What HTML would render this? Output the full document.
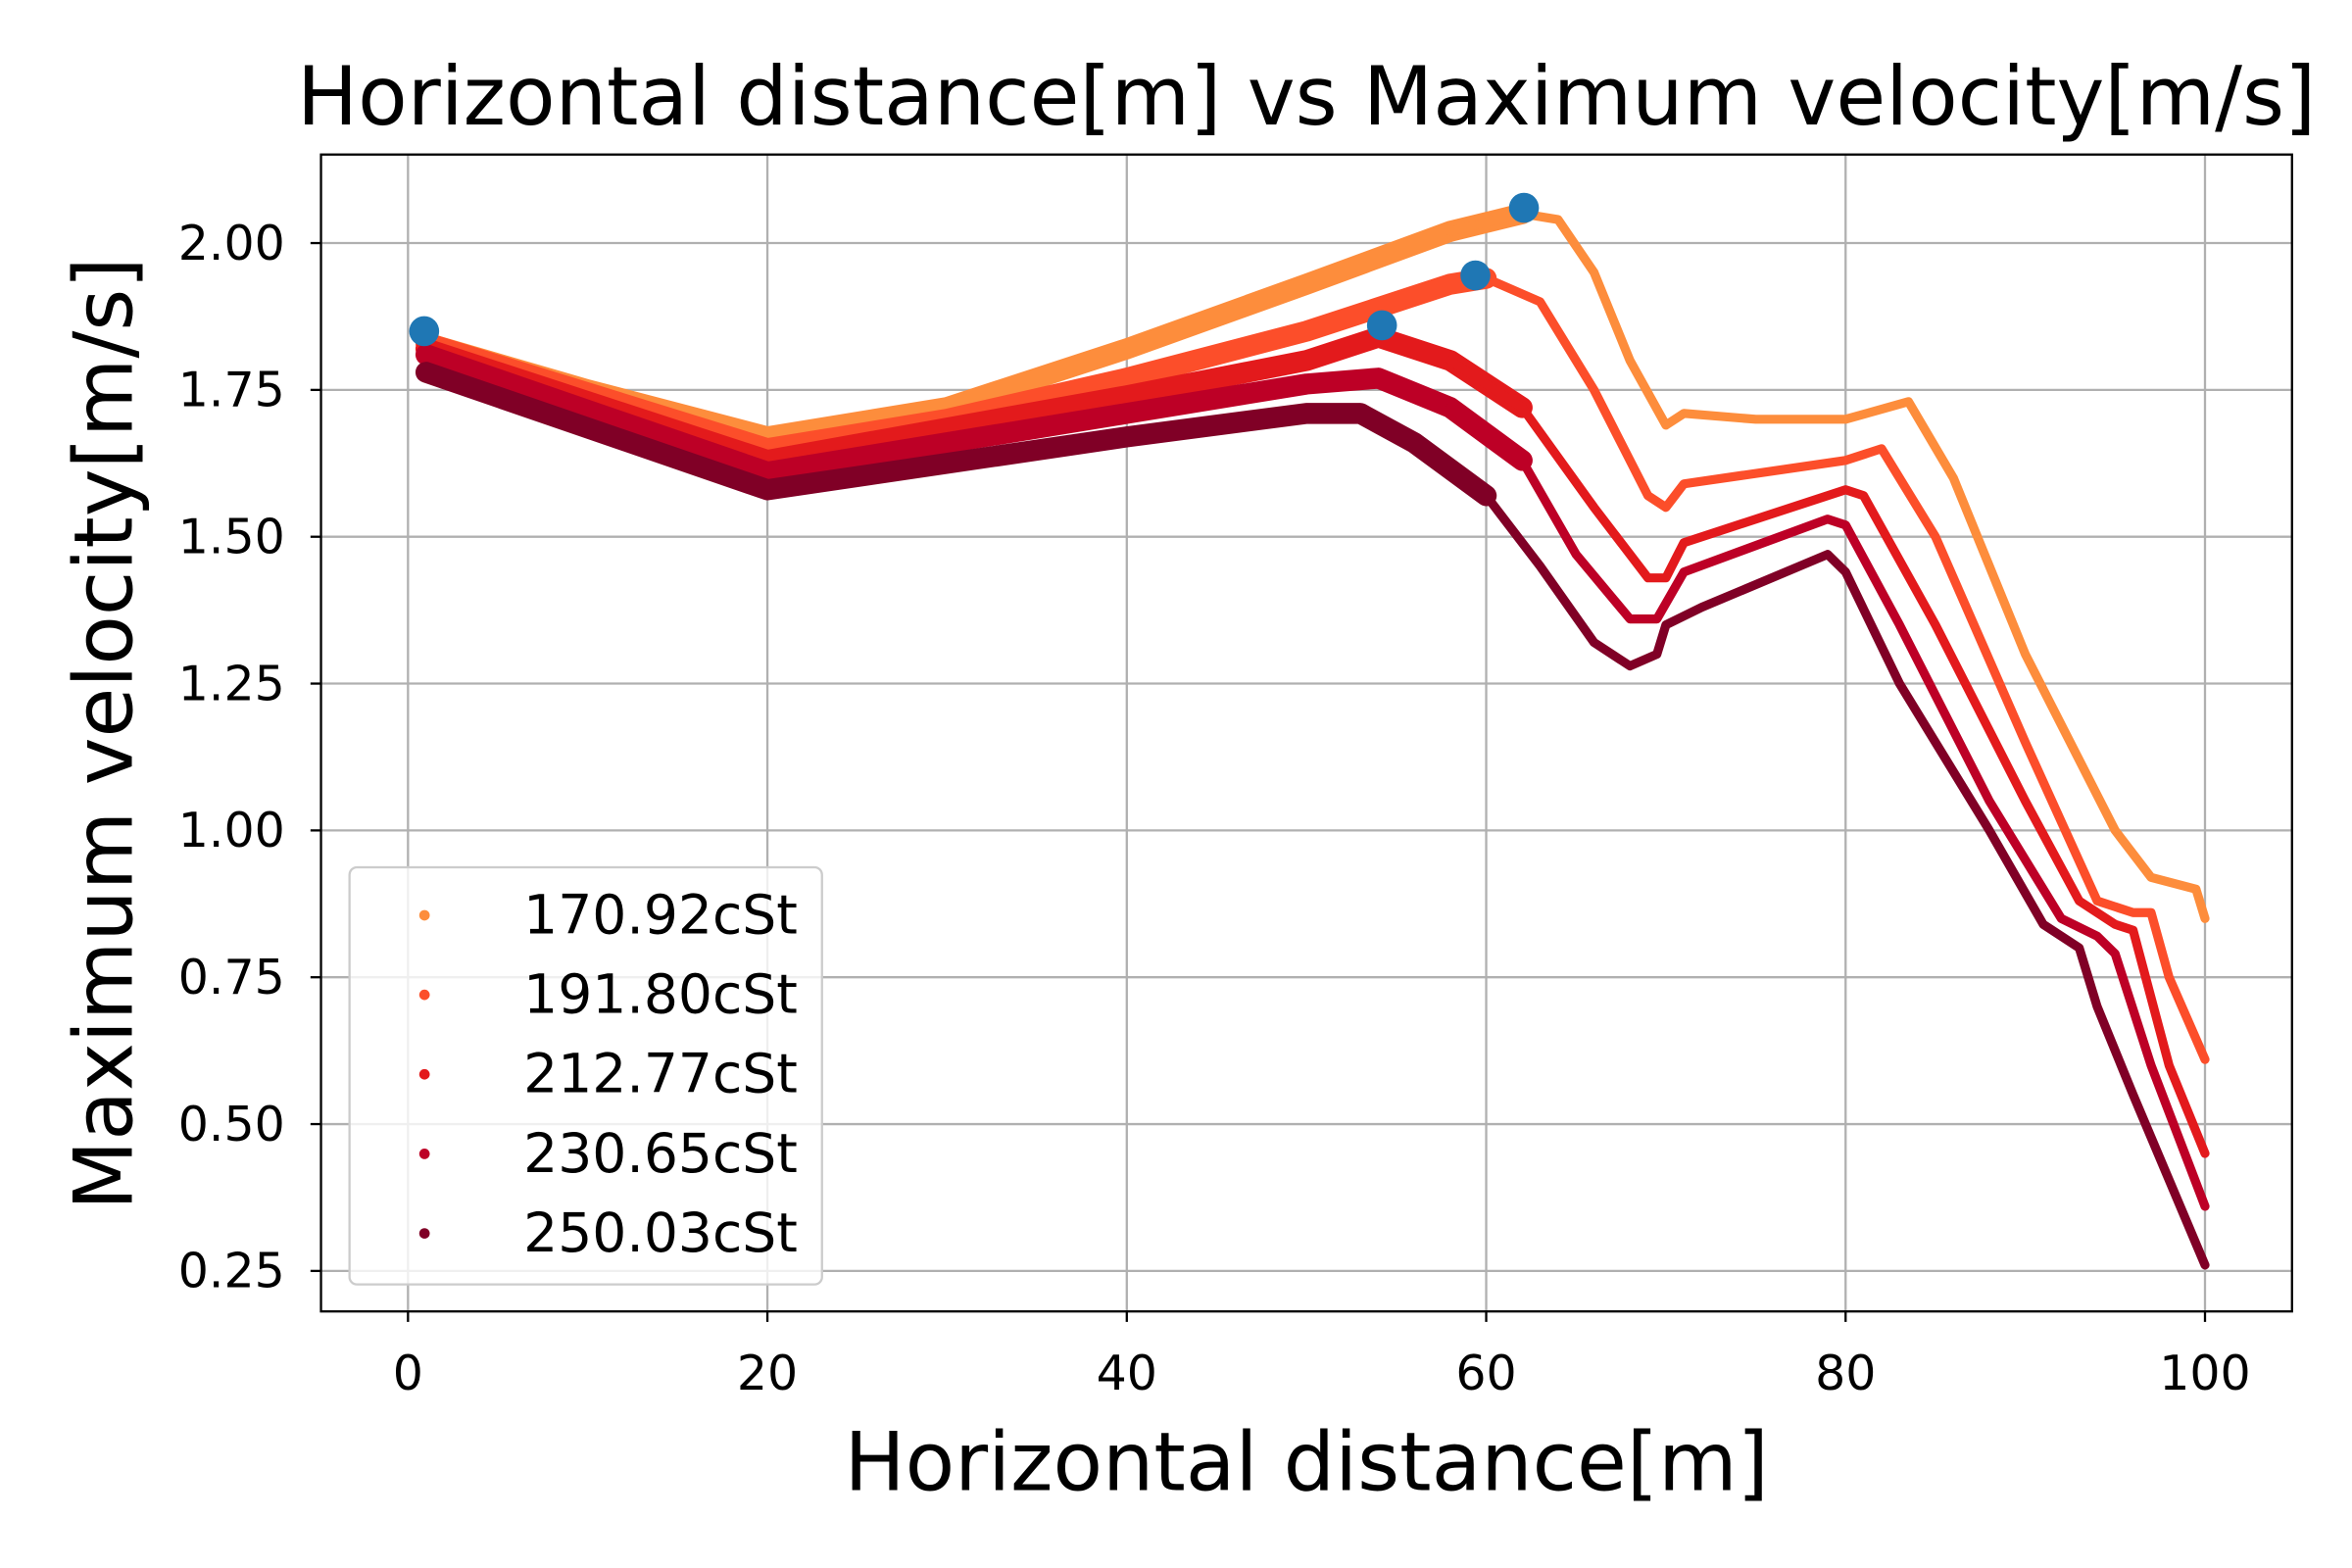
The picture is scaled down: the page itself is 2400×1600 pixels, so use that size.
<!DOCTYPE html>
<html><head><meta charset="utf-8"><style>
html,body{margin:0;padding:0;background:#fff;}
svg{display:block;font-family:"DejaVu Sans","Liberation Sans",sans-serif;}
</style></head><body>
<svg id="chart" width="2400" height="1600" viewBox="0 0 1568 1045" preserveAspectRatio="none" xmlns="http://www.w3.org/2000/svg">
<rect x="0" y="0" width="1568" height="1045" fill="#fff"/>
<g id="grid"></g>
<g id="series"></g>
<g id="peaks"></g>
<rect x="214" y="103" width="1314" height="771" fill="none" stroke="#000" stroke-width="1.5"/>
<g id="ticks"></g>
<text x="871" y="83" text-anchor="middle" font-size="54">Horizontal distance[m] vs Maximum velocity[m/s]</text>
<text x="871" y="993" text-anchor="middle" font-size="54">Horizontal distance[m]</text>
<text transform="translate(88,489) rotate(-90)" text-anchor="middle" font-size="54">Maximum velocity[m/s]</text>
<g id="legend">
<rect x="233" y="578" width="315" height="278" rx="5" fill="#fff" fill-opacity="0.8" stroke="#ccc" stroke-width="1.5"/>
</g>
</svg>
<script>
const xTicks=[0,20,40,60,80,100];
const yTicks=[0.25,0.5,0.75,1.0,1.25,1.5,1.75,2.0];
const seriesNames=["170.92cSt","191.80cSt","212.77cSt","230.65cSt","250.03cSt"];
const seriesColors=["#fd8d3c","#fc4e2a","#e31a1c","#bd0026","#800026"];
const s1x=[1,10,20,30,40,50,58,62,64,66,68,70,71,75,80,83.5,86,90,95,97,99.5,100];
const s1y=[1.83,1.75,1.67,1.72,1.82,1.93,2.02,2.05,2.04,1.95,1.80,1.69,1.71,1.70,1.70,1.73,1.60,1.30,1.00,0.92,0.90,0.85];
const s2x=[1,20,30,40,50,58,60,63,66,69,70,71,80,82,85,90,94,96,97,98,100];
const s2y=[1.83,1.65,1.70,1.77,1.85,1.93,1.94,1.90,1.75,1.57,1.55,1.59,1.63,1.65,1.50,1.15,0.88,0.86,0.86,0.75,0.61];
const s3x=[1,20,40,50,54,58,62,66,69,70,71,80,81,85,90,93,95,96,98,100];
const s3y=[1.82,1.63,1.74,1.80,1.84,1.80,1.72,1.55,1.43,1.43,1.49,1.58,1.57,1.35,1.05,0.88,0.84,0.83,0.60,0.45];
const s4x=[1,20,40,50,54,58,62,65,68,69.5,71,79,80,83,88,92,94,95,97,100];
const s4y=[1.81,1.61,1.71,1.76,1.77,1.72,1.63,1.47,1.36,1.36,1.44,1.53,1.52,1.35,1.05,0.85,0.82,0.79,0.60,0.36];
const s5x=[1,20,40,50,53,56,60,63,66,68,69.5,70,72,79,80,83,88,91,93,94,96,100];
const s5y=[1.78,1.58,1.67,1.71,1.71,1.66,1.57,1.45,1.32,1.28,1.30,1.35,1.38,1.47,1.44,1.25,1.00,0.84,0.80,0.70,0.55,0.26];
const allX=[s1x,s2x,s3x,s4x,s5x], allY=[s1y,s2y,s3y,s4y,s5y];
const peakX=[0.9,54.2,59.4,62.1];
const peakY=[1.85,1.86,1.945,2.06];
const oscEnd=62;

const NS="http://www.w3.org/2000/svg";
const X=v=>272+v*11.98;
const Y=v=>162+(2-v)/0.25*97.86;
function mk(tag,attrs,parent){const e=document.createElementNS(NS,tag);for(const k in attrs)e.setAttribute(k,attrs[k]);parent.appendChild(e);return e;}
const grid=document.getElementById('grid'),ticks=document.getElementById('ticks');
xTicks.forEach(t=>{
  const g=mk('line',{x1:X(t),x2:X(t),y1:103,y2:874,stroke:'#b0b0b0','stroke-width':1.5},grid);
  
  
  const tk=mk('line',{x1:X(t),x2:X(t),y1:874,y2:881,stroke:'#000','stroke-width':1.5},ticks);
  
  
  const tx=mk('text',{x:X(t),y:926,'text-anchor':'middle','font-size':32},ticks);
  tx.textContent=t;
  
  
});
yTicks.forEach(t=>{
  const g=mk('line',{x1:214,x2:1528,y1:Y(t),y2:Y(t),stroke:'#b0b0b0','stroke-width':1.5},grid);
  
  
  const tk=mk('line',{x1:207,x2:214,y1:Y(t),y2:Y(t),stroke:'#000','stroke-width':1.5},ticks);
  
  
  const tx=mk('text',{x:190,y:Y(t)+11,'text-anchor':'end','font-size':32},ticks);
  tx.textContent=t.toFixed(2);
  
  
});
const sg=document.getElementById('series');
allX.forEach((xs,i)=>{
  const ys=allY[i];
  const early=[],late=[];
  xs.forEach((x,j)=>{
    const pt=X(x)+','+Y(ys[j]);
    if(x<=oscEnd) early.push(pt);
    if(x>=oscEnd-6) late.push(pt);
  });
  const p=mk('polyline',{points:early.join(' '),fill:'none',stroke:seriesColors[i],'stroke-width':14,'stroke-linejoin':'round','stroke-linecap':'round'},sg);
  
  
  const q=mk('polyline',{points:late.join(' '),fill:'none',stroke:seriesColors[i],'stroke-width':6,'stroke-linejoin':'round','stroke-linecap':'round'},sg);
  
  
});
const pg=document.getElementById('peaks');
peakX.forEach((x,i)=>{
  const c=mk('circle',{cx:X(x),cy:Y(peakY[i]),r:10,fill:'#1f77b4'},pg);
  
  
});
const lg=document.getElementById('legend');
seriesNames.forEach((n,i)=>{
  const yy=610+i*53;
  const c=mk('circle',{cx:283,cy:yy,r:3.5,fill:seriesColors[i]},lg);
  
  
  const t=mk('text',{x:349,y:yy+12,'font-size':36},lg);
  t.textContent=n;
  
  
});
</script>
</body></html>
